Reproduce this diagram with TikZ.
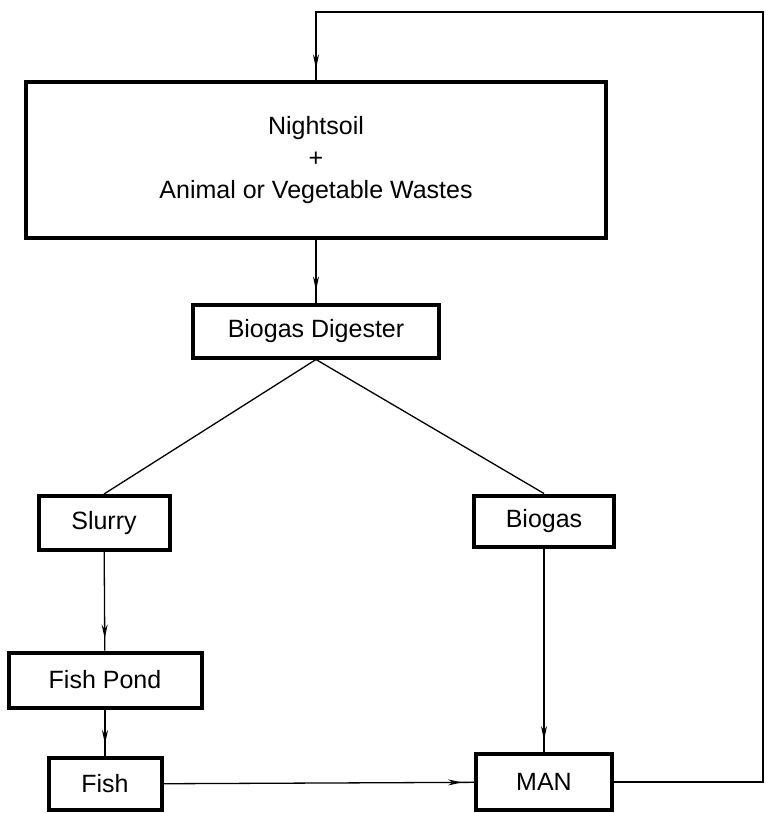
\documentclass[tikz,border=0pt]{standalone}
\usepackage{fontspec}
\setmainfont{Liberation Sans}
\usepackage{tikz}
\usetikzlibrary{arrows.meta,decorations.markings}
\def\BoxLine{4pt}
\def\FlowLine{1.3pt}

\begin{document}
\begin{tikzpicture}[x=1pt,y=-1pt,
  font=\fontsize{25}{32}\selectfont,
  stage/.style={draw,line width=\BoxLine,inner sep=0pt,align=center},
  link/.style={line width=\FlowLine},
  flow/.style={link,postaction={decorate},
    decoration={markings,mark=at position -12pt with {\arrow{Stealth[length=14pt,width=6pt]}}}}]
			\useasboundingbox (0,0) rectangle (765,813);
			\node[stage,minimum width=580pt,minimum height=155pt] (wastes) at (316,160)
				{Nightsoil\\+\\Animal or Vegetable Wastes};
			\node[stage,minimum width=246pt,minimum height=53pt] (digester) at (316,331) {Biogas Digester};
			\node[stage,minimum width=131pt,minimum height=54pt] (slurry) at (104,523) {Slurry};
			\node[stage,minimum width=140pt,minimum height=51pt] (biogas) at (544,521) {Biogas};
			\node[stage,minimum width=193pt,minimum height=55pt] (pond) at (105,680) {Fish Pond};
			\node[stage,minimum width=113pt,minimum height=52pt] (fish) at (105,784) {Fish};
			\node[stage,minimum width=136pt,minimum height=56pt] (man) at (544,782) {MAN};
			\coordinate (loopa) at (763,782);
			\coordinate (loopb) at (763,12);
			\coordinate (loopc) at (316,12);
			% (digester) -- (wastes)
			\draw[flow] (wastes) -- (digester);
			\draw[link] (digester.south) -- (slurry.north);
			\draw[link] (digester.south) -- (biogas.north);
			\draw[flow] (slurry) -- (pond);
			\draw[flow] (pond) -- (fish);
			\draw[flow] (biogas) -- (man);
			\draw[flow] (fish) -- (man);
			\draw[flow] (man.east) -- (loopa) -- (loopb) -- (loopc) -- (wastes.north);
		\end{tikzpicture}
\end{document}
